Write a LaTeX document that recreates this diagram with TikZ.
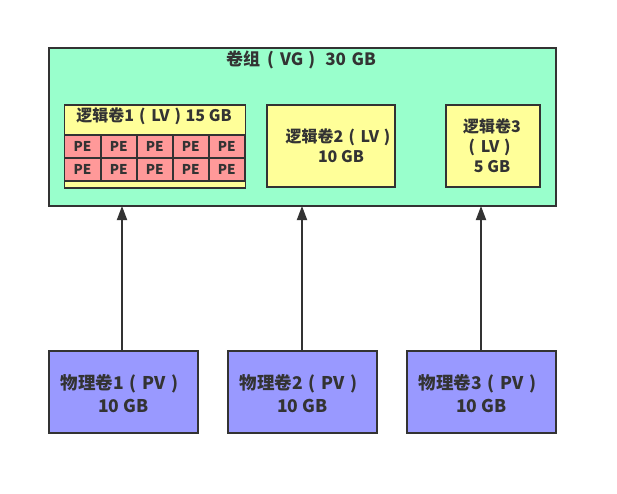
\documentclass[tikz,border=0pt]{standalone}
\usepackage{fontspec}
\setmainfont{Noto Sans CJK SC}
\usetikzlibrary{arrows.meta}
\definecolor{edge}{HTML}{333333}
\definecolor{vgfill}{HTML}{99FFCC}
\definecolor{lvfill}{HTML}{FFFF99}
\definecolor{pefill}{HTML}{FF9999}
\definecolor{pvfill}{HTML}{9999FF}
\newcommand\lpar{\hspace{0.32em}(\hspace{0.36em}}
\newcommand\rpar{\hspace{0.3em})}
\tikzset{
  box/.style={draw=edge, line width=1.7pt, inner sep=0pt},
  lbl/.style={text=edge, font=\fontsize{16}{20}\selectfont\bfseries, align=center, inner sep=0pt},
  titlelbl/.style={text=edge, font=\fontsize{17}{20}\selectfont\bfseries, align=center, inner sep=0pt},
  pvlbl/.style={text=edge, font=\fontsize{17.5}{23}\selectfont\bfseries, align=center, inner sep=0pt},
  pelbl/.style={text=edge, font=\fontsize{13.5}{15}\selectfont\bfseries, inner sep=0pt},
  conn/.style={draw=edge, line width=1.8pt, -{Triangle[length=14pt,width=10pt]}}
}
\begin{document}
\begin{tikzpicture}[x=1pt,y=-1pt]
\useasboundingbox (0,0) rectangle (617,494);
% VG
\node[box, fill=vgfill, minimum width=507pt, minimum height=158pt, anchor=north west] (vg) at (48,47) {};
\node[titlelbl] (vgt) at (301,60) {卷组\hspace{0.1em}\lpar VG\rpar\hspace{0.6em}30\hspace{0.1em} GB};
% LV1
\node[box, fill=lvfill, minimum width=181pt, minimum height=83pt, anchor=north west] (lv1) at (63.5,104.5) {};
\node[lbl] (lv1t) at (154,116) {逻辑卷1\lpar LV\rpar\hspace{0.3em}15 GB};
\foreach \r/\y in {0/134,1/157}{
  \foreach \c/\x in {0/63.5,1/100,2/136,3/172,4/208}{
    \pgfmathsetmacro{\w}{ifthenelse(\c==0,36.5,36)}
    \node[box, fill=pefill, minimum width=\w pt, minimum height=23pt, anchor=north west] (pe\r\c) at (\x,\y) {};
    \node[pelbl] at (pe\r\c.center) {PE};
  }
}
% LV2
\node[box, fill=lvfill, minimum width=128pt, minimum height=82pt, anchor=north west] (lv2) at (266,104.5) {};
\node[lbl] (lv2t) at (341,145.5) {逻辑卷2\lpar LV\rpar\rule{6pt}{0pt}\\10 GB};
% LV3
\node[box, fill=lvfill, minimum width=94pt, minimum height=82pt, anchor=north west] (lv3) at (445,104.5) {};
\node[lbl] (lv3t) at (492,146) {逻辑卷3\\\hspace{-0.3em}(\hspace{0.36em}LV\rpar\\5 GB};
% PVs
\foreach \i/\x in {1/48,2/227,3/406}{
  \node[box, fill=pvfill, minimum width=149pt, minimum height=82pt, anchor=north west] (pv\i) at (\x,350) {};
  \node[pvlbl] (pv\i t) at ([yshift=-1.5pt]pv\i.center) {物理卷\i\lpar PV\rpar\rule{8pt}{0pt}\\10 GB};
}
% arrows
\coordinate (a1) at (122,206);
\coordinate (a2) at (302,206);
\coordinate (a3) at (481,206);
\draw[conn] (pv1.north -| a1) -- (a1);
\draw[conn] (pv2.north -| a2) -- (a2);
\draw[conn] (pv3.north -| a3) -- (a3);
\end{tikzpicture}
\end{document}
